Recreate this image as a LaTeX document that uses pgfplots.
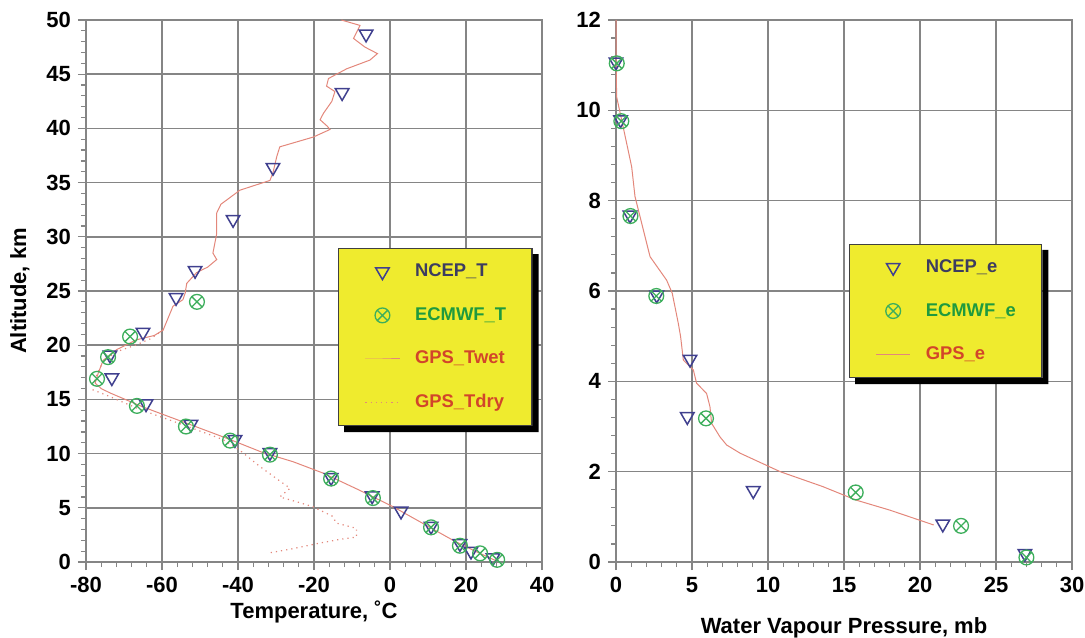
\documentclass[border=0pt]{standalone}
\usepackage{fontspec}
\setmainfont{Liberation Sans}
\usepackage{pgfplots}
\pgfplotsset{compat=1.18}

\definecolor{ncep}{HTML}{40408F}
\definecolor{ecm}{HTML}{3DAE5C}
\definecolor{gps}{HTML}{E3877B}
\definecolor{ncept}{HTML}{3C3C60}
\definecolor{ecmt}{HTML}{1F9A3E}
\definecolor{gpst}{HTML}{D2452A}
\definecolor{legy}{HTML}{EFEB2E}
\definecolor{gridc}{HTML}{858585}

\pgfplotsset{myaxis/.style={
  scale only axis, width=228pt, height=271pt,
  tick pos=left, tick align=outside,
  major tick length=4pt, minor tick length=2.5pt,
  grid=major, grid style={draw=gridc, line width=0.8pt},
  axis line style={draw=gridc, line width=0.8pt},
  every tick/.style={draw=gridc, line width=0.6pt},
  minor tick num=4,
  tick label style={font=\fontsize{11}{13}\selectfont\bfseries},
  /pgf/number format/assume math mode=true,
  label style={font=\fontsize{11}{13}\selectfont\bfseries},
  clip=false,
  legend cell align=left,
  legend style={fill=legy, draw=black!75, line width=0.6pt,
    font=\fontsize{9.2}{11}\selectfont\bfseries,
    inner xsep=13pt, inner ysep=7pt, row sep=12.8pt, column sep=7.5pt,
    nodes={inner sep=0pt, text height=7pt, text depth=2pt},
    anchor=north west},
  ncepstyle/.style={only marks, mark=triangle, mark size=3.9pt,
    mark options={rotate=180, draw=ncep, fill=none, line width=0.75pt}},
  ecmstyle/.style={only marks, mark=otimes, mark size=3.7pt,
    mark options={draw=ecm, fill=none, line width=0.65pt}},
}}

\newcommand{\legshadow}[1]{%
  \fill[black] ([xshift=3pt]#1.south west) -- ([shift={(3pt,-3pt)}]#1.south west)
    -- ([shift={(3pt,-3pt)}]#1.south east) -- ([shift={(3pt,-3pt)}]#1.north east)
    -- ([yshift=-3pt]#1.north east) -- (#1.south east) -- cycle;}

\begin{document}
\begin{tikzpicture}[x=1pt,y=1pt]
\path[use as bounding box] (0,0) rectangle (542.5,318.5);

\begin{axis}[myaxis, at={(43pt,37.5pt)}, anchor=south west,
  xmin=-80, xmax=40, xtick={-80,-60,...,40},
  ymin=0, ymax=50, ytick={0,5,...,50},
  ylabel={Altitude, km},
  ylabel style={at={(axis description cs:-0.145,0.5)}, anchor=center},
  xlabel={Temperature, ˚C},
  xlabel style={at={(axis description cs:0.5,-0.092)}, anchor=center},
  legend style={at={(axis description cs:0.553,0.579)}, name=legL},
]
\addplot[ncepstyle] coordinates {
(-6.3,48.7) (-12.6,43.3) (-30.8,36.4) (-41.3,31.6) (-51.3,26.9) (-56.3,24.4)
(-65.0,21.2) (-73.7,19.1) (-73.2,17.0) (-64.2,14.6) (-52.4,12.7) (-40.8,11.3)
(-31.6,10.1) (-15.5,7.8) (-4.7,6.1) (2.9,4.7) (10.8,3.3) (18.4,1.7) (21.3,1.0) (27.1,0.4)
};
\addlegendentry{\textcolor{ncept}{NCEP\_T}}
\addplot[ecmstyle] coordinates {
(-50.8,24.0) (-68.4,20.8) (-74.2,18.9) (-77.1,16.9) (-66.6,14.4) (-53.7,12.5)
(-42.1,11.2) (-31.6,9.9) (-15.5,7.7) (-4.5,5.9) (10.8,3.2) (18.4,1.5) (23.7,0.8) (28.2,0.2)
};
\addlegendentry{\textcolor{ecmt}{ECMWF\_T}}
\addplot[gps, line width=0.5pt, mark=none] coordinates {
(-12.8,50) (-7.9,49.5) (-9.6,48.3) (-6.6,47.5) (-3.3,46.9) (-5.3,46.3) (-11.4,45.5)
(-16.2,44.6) (-16.7,43.9) (-14.5,43.4) (-15.3,42.5) (-17.5,41.4) (-18.4,40.8)
(-16.5,40.2) (-15.8,39.9) (-20.2,39.2) (-29.0,38.3) (-29.8,37.4) (-30.8,35.9)
(-31.6,35.2) (-39.5,34.3) (-44.5,33.0) (-45.6,32.2) (-45.6,30.3) (-46.6,28.5)
(-45.6,27.9) (-48.0,27.2) (-50.9,26.7) (-53.5,25.7) (-53.9,24.8) (-54.5,24.2)
(-57.1,23.6) (-59.7,21.4) (-62.0,20.9) (-66.7,20.5) (-71.9,19.6) (-75.5,18.6)
(-76.8,17.4) (-77.6,16.5) (-76.0,16.0) (-73.7,15.6) (-65.0,14.3) (-53.5,12.8)
(-42.1,11.3) (-33.5,10.1) (-25.5,9.25) (-17.6,8.2) (-7.9,6.6) (0.8,5.1)
(16.6,2.0) (21.8,1.1) (28.0,0.1)
};
\addlegendentry{\textcolor{gpst}{GPS\_Twet}}
\addplot[gps, line width=0.6pt, dotted, mark=none] coordinates {
(-59.7,21.4) (-63.0,20.6) (-67.0,20.0) (-72.0,19.4) (-75.5,18.5) (-77.0,17.4)
(-78.0,16.5) (-78.3,15.9) (-74.0,15.3) (-66.0,14.1) (-54.0,12.6) (-44.0,11.3)
(-39.5,10.3) (-34.2,8.8) (-29.5,7.6) (-26.3,6.8) (-29.0,6.0) (-24.0,5.5)
(-20.3,5.1) (-15.0,4.2) (-14.2,3.6) (-8.8,3.1) (-8.8,2.3) (-13.0,2.1)
(-18.4,1.75) (-26.0,1.2) (-32.4,0.8)
};
\addlegendentry{\textcolor{gpst}{GPS\_Tdry}}
\end{axis}
\legshadow{legL}

\begin{axis}[myaxis, at={(308pt,37.5pt)}, anchor=south west,
  xmin=0, xmax=30, xtick={0,5,...,30},
  ymin=0, ymax=12, ytick={0,2,...,12},
  xlabel={Water Vapour Pressure, mb},
  xlabel style={at={(axis description cs:0.5,-0.122)}, anchor=center},
  legend style={at={(axis description cs:0.511,0.587)}, name=legR},
]
\addplot[ncepstyle] coordinates {
(0.0,11.07) (0.3,9.79) (0.92,7.68) (2.68,5.91) (4.87,4.49) (4.69,3.22)
(9.03,1.58) (21.5,0.84) (26.9,0.19)
};
\addlegendentry{\textcolor{ncept}{NCEP\_e}}
\addplot[ecmstyle] coordinates {
(0.05,11.04) (0.35,9.76) (0.95,7.66) (2.65,5.89) (5.92,3.18) (15.77,1.54)
(22.7,0.80) (27.0,0.10)
};
\addlegendentry{\textcolor{ecmt}{ECMWF\_e}}
\addplot[gps, line width=0.5pt, mark=none] coordinates {
(0.0,12.0) (0.0,11.3) (0.04,10.3) (0.37,9.79) (1.03,8.75) (1.25,8.09) (2.24,6.76)
(3.33,6.24) (3.7,5.95) (4.1,5.28) (4.25,4.99) (4.43,4.47) (5.09,4.25) (5.3,3.96)
(5.96,3.73) (6.18,3.44) (6.29,3.07) (6.84,2.77) (7.28,2.59) (8.16,2.41)
(10.8,2.0) (13.6,1.67) (15.8,1.37) (18.0,1.15) (20.9,0.82)
};
\addlegendentry{\textcolor{gpst}{GPS\_e}}
\end{axis}
\legshadow{legR}
\end{tikzpicture}
\end{document}
